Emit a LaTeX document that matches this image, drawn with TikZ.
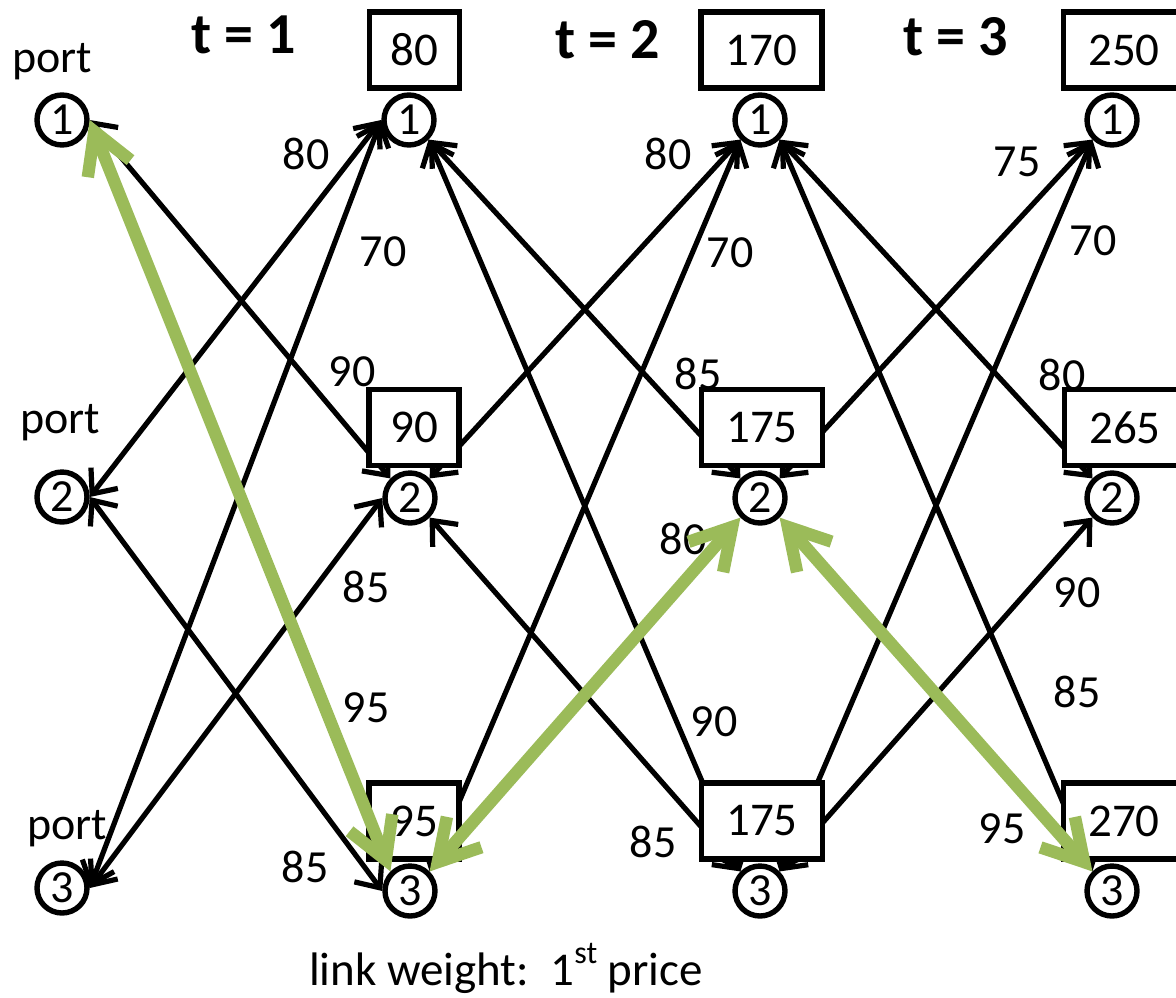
\documentclass[tikz,border=0pt]{standalone}
\usepackage{fontspec}
\setmainfont{Carlito}
\usetikzlibrary{arrows.meta}
\definecolor{selgreen}{HTML}{9BBB59}
\begin{document}
\begin{tikzpicture}[x=0.5pt,y=-0.5pt,
  port/.style={circle,draw,line width=2.7pt,fill=white,minimum size=25pt,inner sep=0pt,font=\fontsize{23}{27}\selectfont},
  price/.style={rectangle,draw,line width=2.7pt,fill=white,minimum height=38pt,inner sep=0pt,font=\fontsize{23.5}{28}\selectfont},
  twodig/.style={price,minimum width=45pt},
  threedig/.style={price,minimum width=60.5pt},
  lnk/.style={line width=2.6pt,{Straight Barb[length=10pt,width=17pt]}-{Straight Barb[length=10pt,width=17pt]}},
  sel/.style={line width=6.2pt,draw=selgreen,{Straight Barb[length=20pt,width=23pt]}-{Straight Barb[length=20pt,width=23pt]}},
  wt/.style={inner sep=0pt,font=\fontsize{23}{27}\selectfont},
  ttl/.style={inner sep=0pt,anchor=base,font=\fontsize{29}{34}\selectfont\bfseries},
  lbl/.style={inner sep=0pt,anchor=base,font=\fontsize{23}{27}\selectfont},
]
\useasboundingbox (0,0) rectangle (1176,997);
\clip (0,0) rectangle (1176,997);

% port circles
\node[port] (p1) at (62,120) {1};
\node[port] (p2) at (62,497) {2};
\node[port] (p3) at (62,888) {3};
\node[port] (a1) at (409,120) {1};
\node[port] (a2) at (410,498) {2};
\node[port] (a3) at (410,891) {3};
\node[port] (b1) at (760,120) {1};
\node[port] (b2) at (760,498) {2};
\node[port] (b3) at (760,891) {3};
\node[port] (c1) at (1112,120) {1};
\node[port] (c2) at (1112,498) {2};
\node[port] (c3) at (1112,891) {3};

% black links
\draw[lnk] (p1.east) -- (a2.north west);
\draw[lnk] (p2.east) -- (a1.west);
\draw[lnk] (p2.east) -- (a3.west);
\draw[lnk] (p3.east) -- (a1.west);
\draw[lnk] (p3.east) -- (a2.west);
\draw[lnk] (a2.north east) -- (b1.south west);
\draw[lnk] (a3.north east) -- (b1.south west);
\draw[lnk] (a1.south east) -- (b2.north west);
\draw[lnk] (a1.south east) -- (b3.north west);
\draw[lnk] (a2.south east) -- (b3.north west);
\draw[lnk] (b2.north east) -- (c1.south west);
\draw[lnk] (b3.north east) -- (c1.south west);
\draw[lnk] (b1.south east) -- (c2.north west);
\draw[lnk] (b3.north east) -- (c2.south west);
\draw[lnk] (b1.south east) -- (c3.north west);

% link weights
\node[wt] (w1) at (306,154) {80};
\node[wt] (w2) at (383,252) {70};
\node[wt] (w3) at (352,372) {90};
\node[wt] (w4) at (366,587) {85};
\node[wt] (w5) at (366,708) {95};
\node[wt] (w6) at (305,867) {85};
\node[wt] (w7) at (668,154) {80};
\node[wt] (w8) at (730,253) {70};
\node[wt] (w9) at (698,374) {85};
\node[wt] (w10) at (683,539) {80};
\node[wt] (w11) at (714,722) {90};
\node[wt] (w12) at (653,842) {85};
\node[wt] (w13) at (1017,162) {75};
\node[wt] (w14) at (1093,241) {70};
\node[wt] (w15) at (1062,375) {80};
\node[wt] (w16) at (1077,593) {90};
\node[wt] (w17) at (1077,692) {85};
\node[wt] (w18) at (1002,829) {95};

% price boxes
\node[twodig] (ba1) at (414.5,50) {80};
\node[threedig] (bb1) at (761.5,50) {170};
\node[threedig] (bc1) at (1124,50) {250};
\node[twodig] (ba2) at (414,427.5) {90};
\node[threedig] (bb2) at (762,427.5) {175};
\node[threedig] (bc2) at (1125,427.5) {265};
\node[twodig] (ba3) at (414,821) {95};
\node[threedig] (bb3) at (762,821) {175};
\node[threedig] (bc3) at (1124,821) {270};

% selected (green) links
\draw[sel] (p1.east) -- (a3.north west);
\draw[sel] (a3.north east) -- (b2.south west);
\draw[sel] (b2.south east) -- (c3.north west);

% titles and labels
\node[ttl] (t1) at (244,53) {t = 1};
\node[ttl] (t2) at (608,58) {t = 2};
\node[ttl] (t3) at (956,55) {t = 3};
\node[lbl] (q1) at (52,72) {port};
\node[lbl] (q2) at (60,433) {port};
\node[lbl] (q3) at (67,839) {port};
\node[lbl,font=\fontsize{23.5}{28}\selectfont] (cap) at (506,985) {link weight:\ \ 1\raisebox{11pt}{\fontsize{16}{19}\selectfont st} price};
\end{tikzpicture}
\end{document}
